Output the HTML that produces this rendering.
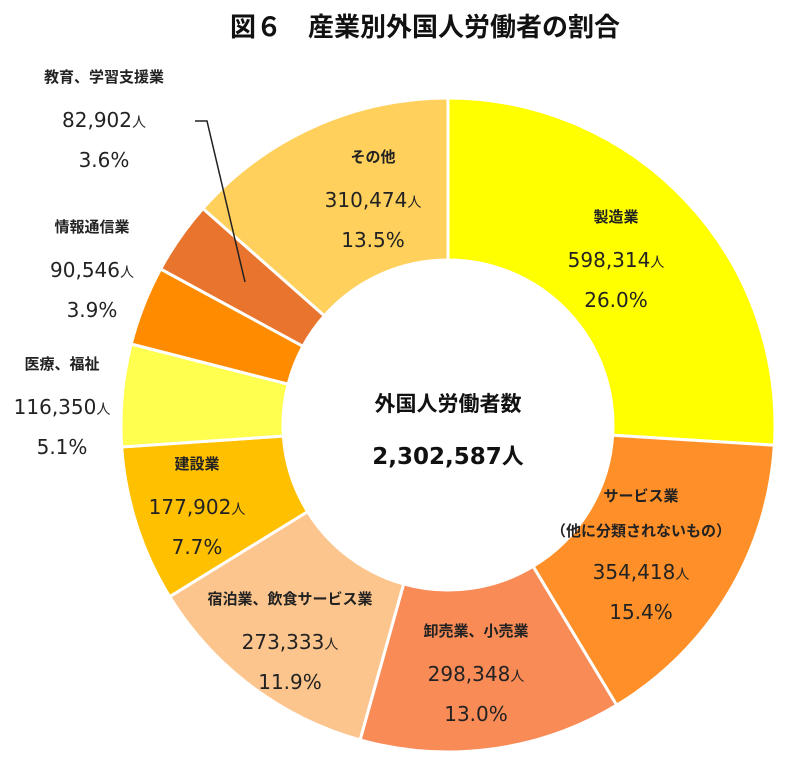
<!DOCTYPE html>
<html><head><meta charset="utf-8">
<style>
html,body{margin:0;padding:0;background:#fff;}
body{width:800px;height:758px;position:relative;overflow:hidden;font-family:"DejaVu Sans","Liberation Sans","Noto Sans CJK JP",sans-serif;color:#222;}
#title{position:absolute;left:0;width:850px;top:7px;text-align:center;font-family:"Liberation Sans","Noto Sans CJK JP",sans-serif;font-weight:bold;font-size:26px;color:#111;}
.lbl{position:absolute;text-align:center;transform:translateX(-50%);white-space:nowrap;}
.lbl .n{font-family:"Liberation Sans","Noto Sans CJK JP",sans-serif;font-weight:bold;font-size:15px;height:24px;line-height:24px;color:#222;}
.lbl .v{font-size:20px;line-height:40px;height:40px;margin-top:10px;color:#222;}
.lbl .v small{font-family:"Noto Sans CJK JP",sans-serif;font-size:14px;}
.lbl .p{font-size:20px;line-height:40px;color:#222;}
#center{position:absolute;left:448px;top:388px;transform:translateX(-50%);text-align:center;font-weight:bold;color:#111;}
</style></head><body>
<div id="title">図６　産業別外国人労働者の割合</div>
<svg id="chart" width="800" height="758" style="position:absolute;left:0;top:0"></svg>
<div id="center">
<div style="font-family:'Liberation Sans','Noto Sans CJK JP',sans-serif;font-size:21px;line-height:34px">外国人労働者数</div>
<div style="font-size:23px;line-height:34px;margin-top:16px">2,302,587<span style="font-family:'Noto Sans CJK JP',sans-serif;font-size:22px">人</span></div>
</div>
<script>
const categories=["製造業","サービス業","卸売業、小売業","宿泊業、飲食サービス業","建設業","医療、福祉","情報通信業","教育、学習支援業","その他"];
const values=[598314,354418,298348,273333,177902,116350,90546,82902,310474];
const percents=["26.0%","15.4%","13.0%","11.9%","7.7%","5.1%","3.9%","3.6%","13.5%"];
const valueLabels=["598,314","354,418","298,348","273,333","177,902","116,350","90,546","82,902","310,474"];
const colors=["#FFFF00","#FF9029","#F98B57","#FCC58D","#FFC000","#FFFF4F","#FF8C00","#E8742E","#FFD05C"];
const cx=448,cy=425,R=327,r=165;
const svg=document.getElementById('chart');
const NS="http://www.w3.org/2000/svg";
const total=values.reduce((a,b)=>a+b,0);
function pt(rad,a){return [cx+rad*Math.sin(a),cy-rad*Math.cos(a)];}
let acc=0;
values.forEach((v,i)=>{
  const a0=acc/total*2*Math.PI; acc+=v; const a1=acc/total*2*Math.PI;
  const large=(a1-a0)>Math.PI?1:0;
  const p0=pt(R,a0),p1=pt(R,a1),q1=pt(r,a1),q0=pt(r,a0);
  const d=`M${p0[0]},${p0[1]}A${R},${R} 0 ${large} 1 ${p1[0]},${p1[1]}L${q1[0]},${q1[1]}A${r},${r} 0 ${large} 0 ${q0[0]},${q0[1]}Z`;
  const path=document.createElementNS(NS,'path');
  path.setAttribute('d',d);path.setAttribute('fill',colors[i]);
  path.setAttribute('stroke','#fff');path.setAttribute('stroke-width','3');
  
  
  svg.appendChild(path);
});
const leader=document.createElementNS(NS,'polyline');
leader.setAttribute('points','195,121 207,121 245,282');
leader.setAttribute('fill','none');leader.setAttribute('stroke','#222');leader.setAttribute('stroke-width','1.5');


svg.appendChild(leader);
// label layout (positions only)
const pos=[[616,206],[641,485],[476,620],[290,588],[197,453],[62,353],[92,216],[104,66],[373,146]];
const extra={1:"（他に分類されないもの）"};
pos.forEach((p,i)=>{
  const d=document.createElement('div');
  d.className='lbl';d.style.left=p[0]+'px';d.style.top=p[1]+'px';
  
  
  let h=`<div class="n">${categories[i]}</div>`;
  if(extra[i]) h+=`<div class="n" style="margin-top:11px">${extra[i]}</div>`;
  h+=`<div class="v"${extra[i]?' style="margin-top:8px"':''}>${valueLabels[i]}<small>人</small></div><div class="p">${percents[i]}</div>`;
  d.innerHTML=h;document.body.appendChild(d);
});
</script>
</body></html>
